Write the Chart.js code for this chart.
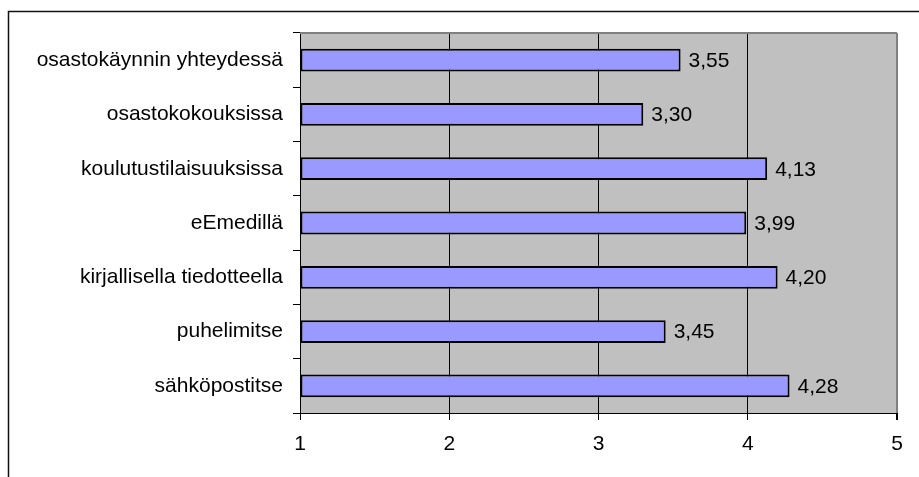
<!DOCTYPE html>
<html>
<head>
<meta charset="utf-8">
<script src="https://cdn.jsdelivr.net/npm/chart.js@4/dist/chart.umd.min.js"></script>
<style>
  html, body { margin: 0; padding: 0; background: #fff; }
  #wrap { width: 919px; height: 477px; }
</style>
</head>
<body>
<div id="wrap"><canvas id="myChart" width="919" height="477"></canvas></div>
<script>
var categories = [
  'osastokäynnin yhteydessä',
  'osastokokouksissa',
  'koulutustilaisuuksissa',
  'eEmedillä',
  'kirjallisella tiedotteella',
  'puhelimitse',
  'sähköpostitse'
];
var values = [3.55, 3.30, 4.13, 3.99, 4.20, 3.45, 4.28];
var axisMin = 1;
var axisMax = 5;

var FONT = 'Liberation Sans, Arial, sans-serif';

// gray plot area, outer frame and the gray top edge of the plot
var frame = {
  id: 'frame',
  beforeDraw: function (chart) {
    var ctx = chart.ctx, a = chart.chartArea;
    ctx.save();
    ctx.fillStyle = '#c0c0c0';
    ctx.fillRect(a.left, a.top, a.right - a.left, a.bottom - a.top);
    ctx.strokeStyle = '#111';
    ctx.lineWidth = 1.5;
    ctx.beginPath();
    ctx.moveTo(8.5, chart.height);
    ctx.lineTo(8.5, 11.5);
    ctx.lineTo(chart.width, 11.5);
    ctx.stroke();
    ctx.restore();
  },
  afterDraw: function (chart) {
    var ctx = chart.ctx, a = chart.chartArea;
    ctx.save();
    ctx.strokeStyle = '#808080';
    ctx.lineWidth = 2;
    ctx.beginPath();
    ctx.moveTo(a.left, a.top);
    ctx.lineTo(a.right, a.top);
    ctx.stroke();
    ctx.restore();
  }
};

// value labels at the end of each bar, decimal comma
var valueLabels = {
  id: 'valueLabels',
  afterDatasetsDraw: function (chart) {
    var ctx = chart.ctx;
    var meta = chart.getDatasetMeta(0);
    ctx.save();
    ctx.font = '21px ' + FONT;
    ctx.fillStyle = '#000';
    ctx.textAlign = 'left';
    ctx.textBaseline = 'middle';
    meta.data.forEach(function (bar, i) {
      ctx.fillText(values[i].toFixed(2).replace('.', ','), bar.x + 8, bar.y + 1);
    });
    ctx.restore();
  }
};

var ctx = document.getElementById('myChart').getContext('2d');
var chart = new Chart(ctx, {
  type: 'bar',
  data: {
    labels: categories,
    datasets: [{
      data: values,
      base: axisMin,
      backgroundColor: '#9999ff',
      borderColor: '#000',
      borderWidth: 2,
      borderSkipped: false,
      barPercentage: 0.42,
      categoryPercentage: 1
    }]
  },
  options: {
    indexAxis: 'y',
    responsive: false,
    animation: false,
    layout: { padding: { left: 0, top: 33, right: 22, bottom: 0 } },
    plugins: {
      legend: { display: false },
      tooltip: { enabled: false }
    },
    scales: {
      x: {
        min: axisMin,
        max: axisMax,
        afterFit: function (scale) { scale.height = 64; },
        ticks: {
          stepSize: 1,
          padding: 12,
          color: '#000',
          font: { family: FONT, size: 21 }
        },
        grid: {
          color: function (c) { return c.tick && c.tick.value === axisMax ? '#808080' : '#000'; },
          lineWidth: function (c) { return c.tick && c.tick.value === axisMax ? 2 : 1; },
          tickColor: '#000',
          tickLength: 7
        },
        border: { display: true, color: '#000', width: 1 }
      },
      y: {
        afterFit: function (scale) { scale.width = 300; },
        ticks: {
          padding: 10,
          color: '#000',
          font: { family: FONT, size: 21 }
        },
        grid: {
          drawOnChartArea: false,
          offset: true,
          color: '#000',
          tickLength: 7
        },
        border: { display: true, color: '#000', width: 1 }
      }
    }
  },
  plugins: [frame, valueLabels]
});
</script>
</body>
</html>
